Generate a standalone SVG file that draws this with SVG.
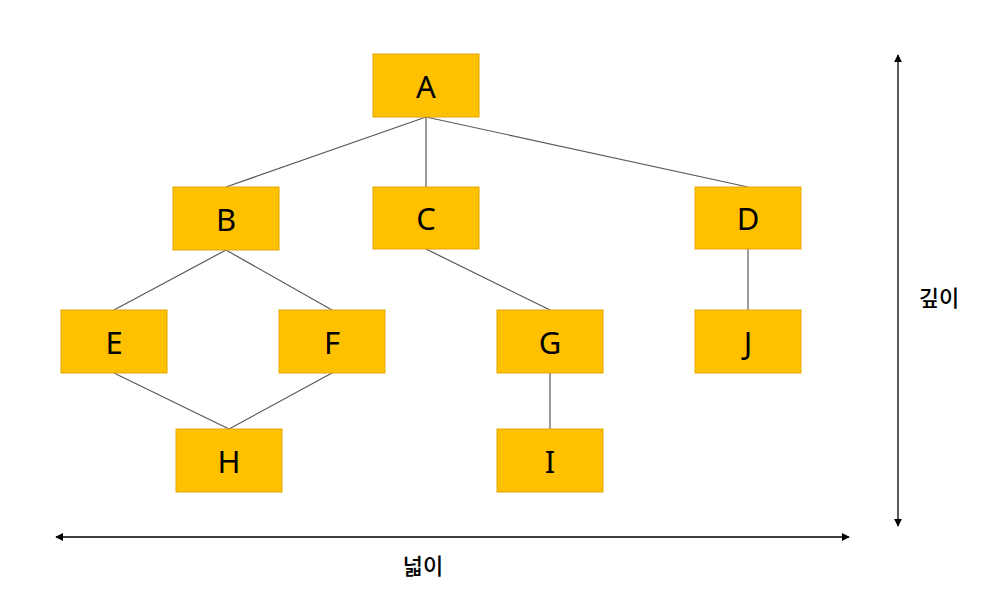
<svg xmlns="http://www.w3.org/2000/svg" width="981" height="589" viewBox="0 0 981 589">
<style>
.n rect{fill:#FFC000;stroke:#E0A800;stroke-width:1}
.n text{font-family:"Noto Sans","Liberation Sans",sans-serif;font-size:31px;fill:#000;text-anchor:middle;dominant-baseline:central}
.e line{stroke:#595959;stroke-width:1.2}
.ax{stroke:#000;stroke-width:1.3}
.lbl{font-family:"Noto Sans CJK KR","Noto Sans",sans-serif;font-size:22px;font-weight:500;fill:#000;text-anchor:middle;dominant-baseline:central}
</style>
<defs>
<marker id="ar" viewBox="0 0 10 10" refX="9" refY="5" markerWidth="8" markerHeight="8" orient="auto-start-reverse" markerUnits="userSpaceOnUse">
<path d="M0,0 L10,5 L0,10 z" fill="#000"/>
</marker>
</defs>
<rect width="981" height="589" fill="#fff"/>
<g id="connectors" class="e">
<line x1="426" y1="117" x2="226" y2="187"/>
<line x1="426" y1="117" x2="426" y2="187"/>
<line x1="426" y1="117" x2="748" y2="187"/>
<line x1="226" y1="250" x2="114" y2="310"/>
<line x1="226" y1="250" x2="332" y2="310"/>
<line x1="426" y1="249" x2="550" y2="310"/>
<line x1="748" y1="249" x2="748" y2="310"/>
<line x1="114" y1="373" x2="229" y2="429"/>
<line x1="332" y1="373" x2="229" y2="429"/>
<line x1="550" y1="373" x2="550" y2="429"/>
</g>
<g id="A" class="n"><rect x="373" y="54" width="106" height="63"/><text x="426" y="86">A</text></g>
<g id="B" class="n"><rect x="173" y="187" width="106" height="63"/><text x="226" y="219">B</text></g>
<g id="C" class="n"><rect x="373" y="187" width="106" height="62"/><text x="426" y="218">C</text></g>
<g id="D" class="n"><rect x="695" y="187" width="106" height="62"/><text x="748" y="218">D</text></g>
<g id="E" class="n"><rect x="61" y="310" width="106" height="63"/><text x="114" y="342">E</text></g>
<g id="F" class="n"><rect x="279" y="310" width="106" height="63"/><text x="332" y="342">F</text></g>
<g id="G" class="n"><rect x="497" y="310" width="106" height="63"/><text x="550" y="342">G</text></g>
<g id="J" class="n"><rect x="695" y="310" width="106" height="63"/><text x="748" y="342">J</text></g>
<g id="H" class="n"><rect x="176" y="429" width="106" height="63"/><text x="229" y="461">H</text></g>
<g id="I" class="n"><rect x="497" y="429" width="106" height="63"/><text x="550" y="461">I</text></g>
<g id="axes">
<line class="ax" x1="898" y1="55" x2="898" y2="526" marker-start="url(#ar)" marker-end="url(#ar)"/>
<line class="ax" x1="56" y1="537" x2="849" y2="537" marker-start="url(#ar)" marker-end="url(#ar)"/>
<text class="lbl" x="423" y="564">넓이</text>
<text class="lbl" x="939" y="296">깊이</text>
</g>
</svg>
